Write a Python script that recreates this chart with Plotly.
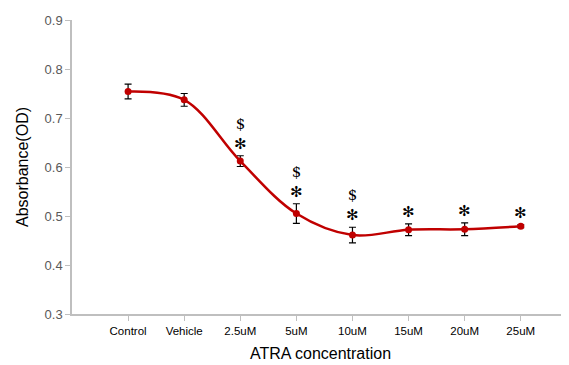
import plotly.graph_objects as go

categories = ["Control", "Vehicle", "2.5uM", "5uM", "10uM", "15uM", "20uM", "25uM"]
absorbance = [0.754, 0.737, 0.612, 0.505, 0.461, 0.472, 0.473, 0.479]
errors = [0.015, 0.013, 0.011, 0.020, 0.016, 0.012, 0.013, 0.003]
marks = ["", "", "$<br>✻", "$<br>✻", "$<br>✻", "✻", "✻", "✻"]
y_ticks = [0.3, 0.4, 0.5, 0.6, 0.7, 0.8, 0.9]

x_idx = list(range(len(categories)))

fig = go.Figure()
fig.add_trace(go.Scatter(
    x=x_idx, y=absorbance,
    mode="lines+markers",
    line=dict(color="#C00000", width=2.5, shape="spline", smoothing=1.0),
    marker=dict(color="#C00000", size=7),
    error_y=dict(type="data", array=errors, color="black", thickness=1.2, width=3.5),
    showlegend=False,
))

for i, (v, e, m) in enumerate(zip(absorbance, errors, marks)):
    if m:
        fig.add_annotation(
            x=i, y=v + e, text=m, showarrow=False,
            yanchor="bottom", yshift=1,
            font=dict(family="DejaVu Serif", size=15, color="black"),
            align="center",
        )

fig.update_layout(
    width=561, height=357,
    margin=dict(l=64, r=0, t=12, b=51),
    plot_bgcolor="white", paper_bgcolor="white",
    font=dict(family="Liberation Sans, Arial", color="black"),
)
fig.update_xaxes(
    range=[-1, 7.86],
    tickmode="array", tickvals=x_idx, ticktext=categories,
    tickfont=dict(size=11.5, color="black"),
    showline=True, linecolor="#BFBFBF", linewidth=1.5,
    ticks="outside", ticklen=5, tickcolor="#BFBFBF",
    showgrid=False, zeroline=False,
    title=dict(text="ATRA concentration", font=dict(size=16), standoff=12),
)
fig.update_yaxes(
    range=[0.3, 0.9],
    tickmode="array", tickvals=y_ticks,
    ticktext=[f"{t:.1f}" for t in y_ticks],
    tickfont=dict(size=13, color="#595959"),
    showline=True, linecolor="#BFBFBF", linewidth=1.5,
    ticks="outside", ticklen=5, tickcolor="#BFBFBF",
    showgrid=False, zeroline=False,
    title=dict(text="Absorbance(OD)", font=dict(size=16), standoff=12),
)

fig.write_html("out.html")
